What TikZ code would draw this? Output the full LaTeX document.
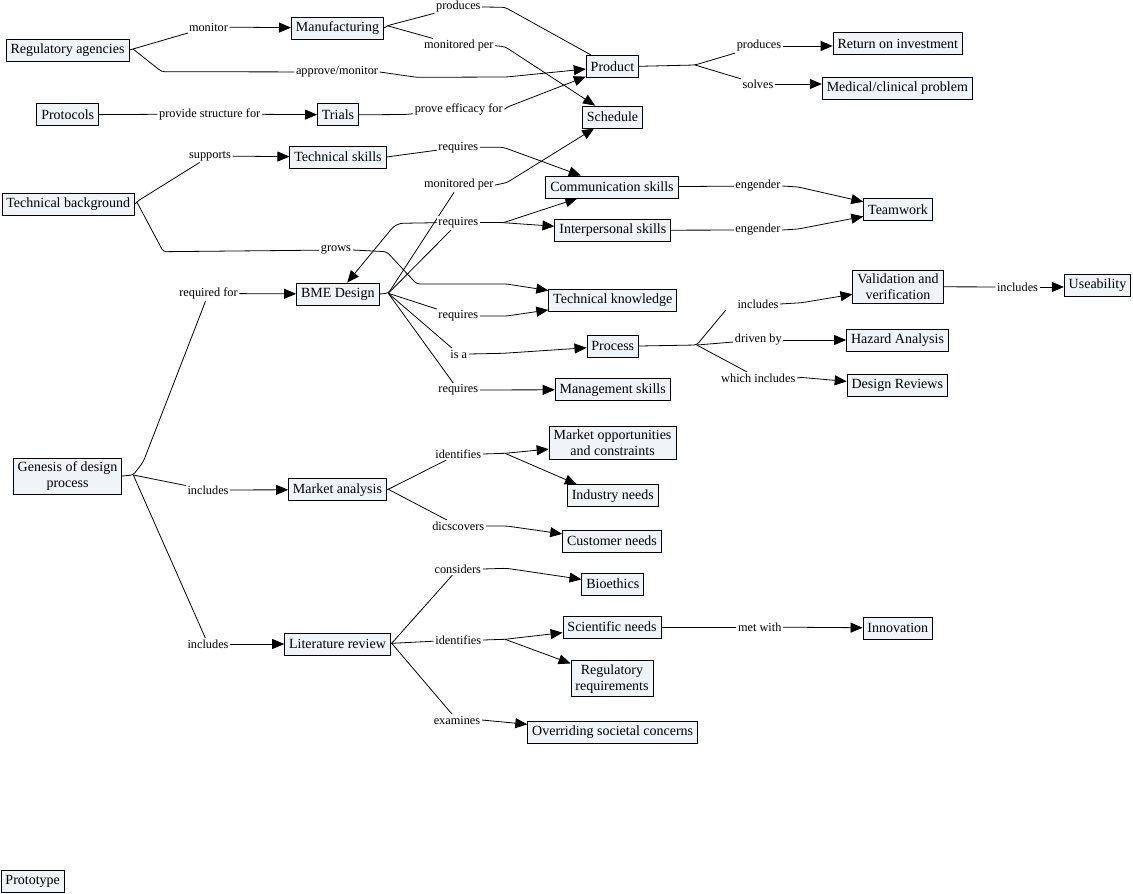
\documentclass[tikz,border=0pt]{standalone}
\usepackage{fontspec}
\setmainfont{Liberation Serif}
\usetikzlibrary{arrows.meta}
\pgfdeclarelayer{background}
\pgfsetlayers{background,main}
\definecolor{nodefill}{RGB}{238,244,247}
\tikzset{
 concept/.style={draw=black, fill=nodefill, line width=0.8pt, inner xsep=4.5pt, inner ysep=3.5pt, minimum height=22pt, font=\fontsize{14}{16}\selectfont, align=center},
 link/.style={fill=white, inner sep=1.5pt, font=\fontsize{12.3}{14}\selectfont},
 conn/.style={line width=0.8pt, rounded corners=3pt},
 arr/.style={conn, -{Triangle[length=12pt,width=10pt]}},
}
\begin{document}
\begin{tikzpicture}[x=1pt,y=-1pt]
\useasboundingbox (0,0) rectangle (1133,894);
% concepts
\node[concept] (ra) at (67.5,50) {Regulatory agencies};
\node[concept] (manu) at (337.5,28) {Manufacturing};
\node[concept] (prot) at (67.7,114.8) {Protocols};
\node[concept] (trials) at (338,114.8) {Trials};
\node[concept] (tskills) at (338,157) {Technical skills};
\node[concept] (tback) at (68.3,204) {Technical background};
\node[concept] (bme) at (337.8,294) {BME Design};
\node[concept] (gen) at (67.5,476) {Genesis of design\\process};
\node[concept] (market) at (337.5,489.7) {Market analysis};
\node[concept] (lit) at (337.5,644) {Literature review};
\node[concept] (product) at (612.5,66.3) {Product};
\node[concept] (sched) at (612.5,117) {Schedule};
\node[concept] (comm) at (612,187) {Communication skills};
\node[concept] (inter) at (612.8,230.3) {Interpersonal skills};
\node[concept] (tknow) at (612.8,300.5) {Technical knowledge};
\node[concept] (process) at (612.8,346) {Process};
\node[concept] (mgmt) at (612.7,389.7) {Management skills};
\node[concept] (mopp) at (612.5,443) {Market opportunities\\and constraints};
\node[concept] (industry) at (612.8,495.8) {Industry needs};
\node[concept] (customer) at (612,541) {Customer needs};
\node[concept] (bio) at (612.8,584) {Bioethics};
\node[concept] (sci) at (612,627) {Scientific needs};
\node[concept] (regreq) at (612,678.7) {Regulatory\\requirements};
\node[concept] (societal) at (612.7,732.5) {Overriding societal concerns};
\node[concept] (roi) at (897.8,43.7) {Return on investment};
\node[concept] (medical) at (897.3,88) {Medical/clinical problem};
\node[concept] (team) at (898,209.7) {Teamwork};
\node[concept] (valid) at (898,286.7) {Validation and\\verification};
\node[concept] (useab) at (1097.5,285.5) {Useability};
\node[concept] (hazard) at (897.5,340) {Hazard Analysis};
\node[concept] (reviews) at (897.3,385.8) {Design Reviews};
\node[concept] (innov) at (897.8,628) {Innovation};
\node[concept] (proto) at (32.7,881.5) {Prototype};
% linking phrases
\node[link] (lmonitor) at (208.5,27) {monitor};
\node[link] (lapprove) at (337,72) {approve/monitor};
\node[link] (lprovide) at (209.7,114) {provide structure for};
\node[link] (lsupports) at (210,156) {supports};
\node[link] (lgrows) at (336,250) {grows};
\node[link] (lreqfor) at (208.5,293.5) {required for};
\node[link] (lincm) at (208,490) {includes};
\node[link] (lincl) at (208,644) {includes};
\node[link] (lprod1) at (458.3,7) {produces};
\node[link] (lmon1) at (458.8,45.7) {monitored per};
\node[link] (lprove) at (458.7,109.3) {prove efficacy for};
\node[link] (lreq1) at (458.3,147.3) {requires};
\node[link] (lmon2) at (458.8,185) {monitored per};
\node[link] (lreq2) at (458.3,222.7) {requires};
\node[link] (lreq3) at (458.3,316) {requires};
\node[link] (lisa) at (458.8,354) {is a};
\node[link] (lreq4) at (458.3,390) {requires};
\node[link] (lident1) at (458.3,454) {identifies};
\node[link] (ldisc) at (458.3,526) {dicscovers};
\node[link] (lcons) at (457.8,569) {considers};
\node[link] (lident2) at (458.3,640) {identifies};
\node[link] (lexam) at (457,720) {examines};
\node[link] (lprod2) at (759,46) {produces};
\node[link] (lsolves) at (758,84) {solves};
\node[link] (leng1) at (758,186) {engender};
\node[link] (leng2) at (758,230) {engender};
\node[link] (linc1) at (758,304) {includes};
\node[link] (ldriven) at (758.3,340) {driven by};
\node[link] (lwhich) at (758.3,378) {which includes};
\node[link] (linc2) at (1017.5,287) {includes};
\node[link] (lmet) at (759.7,627) {met with};
% connectors
\begin{pgfonlayer}{background}
\coordinate (raf) at (133,49);
\draw[conn] (ra.east) -- (raf) -- (lmonitor);
\draw[conn] (raf) -- (161.7,71.7) -- (lapprove);
\draw[arr] (lmonitor) -- (manu);
\draw[arr] (lapprove.east) -- (416.7,77.3) -- (506.7,77) -- (product);
\coordinate (manf) at (387.3,25.7);
\draw[conn] (manu.east) -- (manf) -- (lprod1);
\draw[conn] (manf) -- (lmon1);
\draw[conn] (lprod1.east) -- (505,7.3) -- ([xshift=5pt]product.north west);
\draw[arr] (lmon1.east) -- (505,46.7) -- (sched);
\draw[conn] (prot) -- (lprovide);
\draw[arr] (lprovide) -- (trials);
\draw[conn] (trials.east) -- (405,114.5) -- (lprove);
\draw[arr] (lprove.east) -- (506.7,107.3) -- (product);
\draw[conn] (tskills.east) -- (lreq1);
\draw[arr] (lreq1.east) -- (503.3,147.3) -- (comm);
\coordinate (tbf) at (136.7,201.7);
\draw[conn] (tback.east) -- (tbf) -- (lsupports);
\draw[arr] (lsupports) -- (tskills);
\draw[conn] (tbf) -- (163.3,251.7) -- (lgrows);
\draw[arr] (lgrows.east) -- (386.7,251.7) -- (416.7,284) -- (506.7,284) -- (tknow);
\coordinate (bmef) at (388.3,293.3);
\draw[conn] (bme.east) -- (bmef) -- (lmon2);
\draw[conn] (bmef) -- (lreq2);
\draw[conn] (bmef) -- (lreq3);
\draw[conn] (bmef) -- (lisa);
\draw[conn] (bmef) -- (lreq4);
\draw[arr] (lmon2.east) -- (506.7,182.7) -- (sched);
\coordinate (r2f) at (503.3,222.7);
\draw[conn] (lreq2.east) -- (r2f);
\draw[arr] (r2f) -- (comm);
\draw[arr] (r2f) -- (inter);
\draw[arr] (lreq2.west) -- (400,223.3) -- (393.3,226.7) -- (bme);
\draw[arr] (lreq3.east) -- (506.7,316) -- (tknow);
\draw[arr] (lisa.east) -- (503.3,353.3) -- (process);
\draw[arr] (lreq4) -- (mgmt);
\coordinate (genf) at (133.3,475);
\draw[conn] (gen.east) -- (genf) -- (143.3,461.7) -- (lreqfor);
\draw[conn] (genf) -- (lincm);
\draw[conn] (genf) -- (lincl);
\draw[arr] (lreqfor) -- (bme);
\draw[arr] (lincm) -- (market);
\draw[arr] (lincl) -- (lit);
\coordinate (mf) at (388.3,489.3);
\draw[conn] (market.east) -- (mf) -- (lident1);
\draw[conn] (mf) -- (ldisc);
\coordinate (i1f) at (505,453.3);
\draw[conn] (lident1.east) -- (i1f);
\draw[arr] (i1f) -- (mopp);
\draw[arr] (i1f) -- ([xshift=10pt]industry.north west);
\draw[arr] (ldisc.east) -- (506.7,526) -- (customer);
\coordinate (lf) at (391.7,643.3);
\draw[conn] (lit.east) -- (lf) -- (lcons);
\draw[conn] (lf) -- (lident2);
\draw[conn] (lf) -- (lexam);
\draw[arr] (lcons.east) -- (506.7,568.3) -- (bio);
\coordinate (i2f) at (505,639.3);
\draw[conn] (lident2.east) -- (i2f);
\draw[arr] (i2f) -- (sci);
\draw[arr] (i2f) -- (regreq);
\draw[arr] (lexam.east) -- (societal);
\coordinate (pf) at (695,65);
\draw[conn] (product.east) -- (pf) -- (lprod2);
\draw[conn] (pf) -- (lsolves);
\draw[arr] (lprod2.east) -- (lprod2.east -| roi.west);
\draw[arr] (lsolves.east) -- (lsolves.east -| medical.west);
\draw[conn] (comm) -- (leng1);
\draw[arr] (leng1.east) -- (798.3,187) -- (team);
\draw[conn] (inter) -- (leng2);
\draw[arr] (leng2.east) -- (798.3,229) -- (team);
\coordinate (prf) at (696.7,345);
\draw[conn] (process.east) -- (prf) -- ([xshift=-10pt]linc1.south west);
\draw[conn] (prf) -- (ldriven);
\draw[conn] (prf) -- (lwhich);
\draw[arr] (linc1.east) -- (801.7,302.7) -- (valid);
\draw[arr] (ldriven) -- (hazard);
\draw[arr] (lwhich.east) -- (800,377.3) -- (reviews);
\draw[conn] (valid) -- (linc2);
\draw[arr] (linc2.east) -- (linc2.east -| useab.west);
\draw[conn] (sci) -- (lmet);
\draw[arr] (lmet) -- (innov);
\end{pgfonlayer}
\end{tikzpicture}
\end{document}
